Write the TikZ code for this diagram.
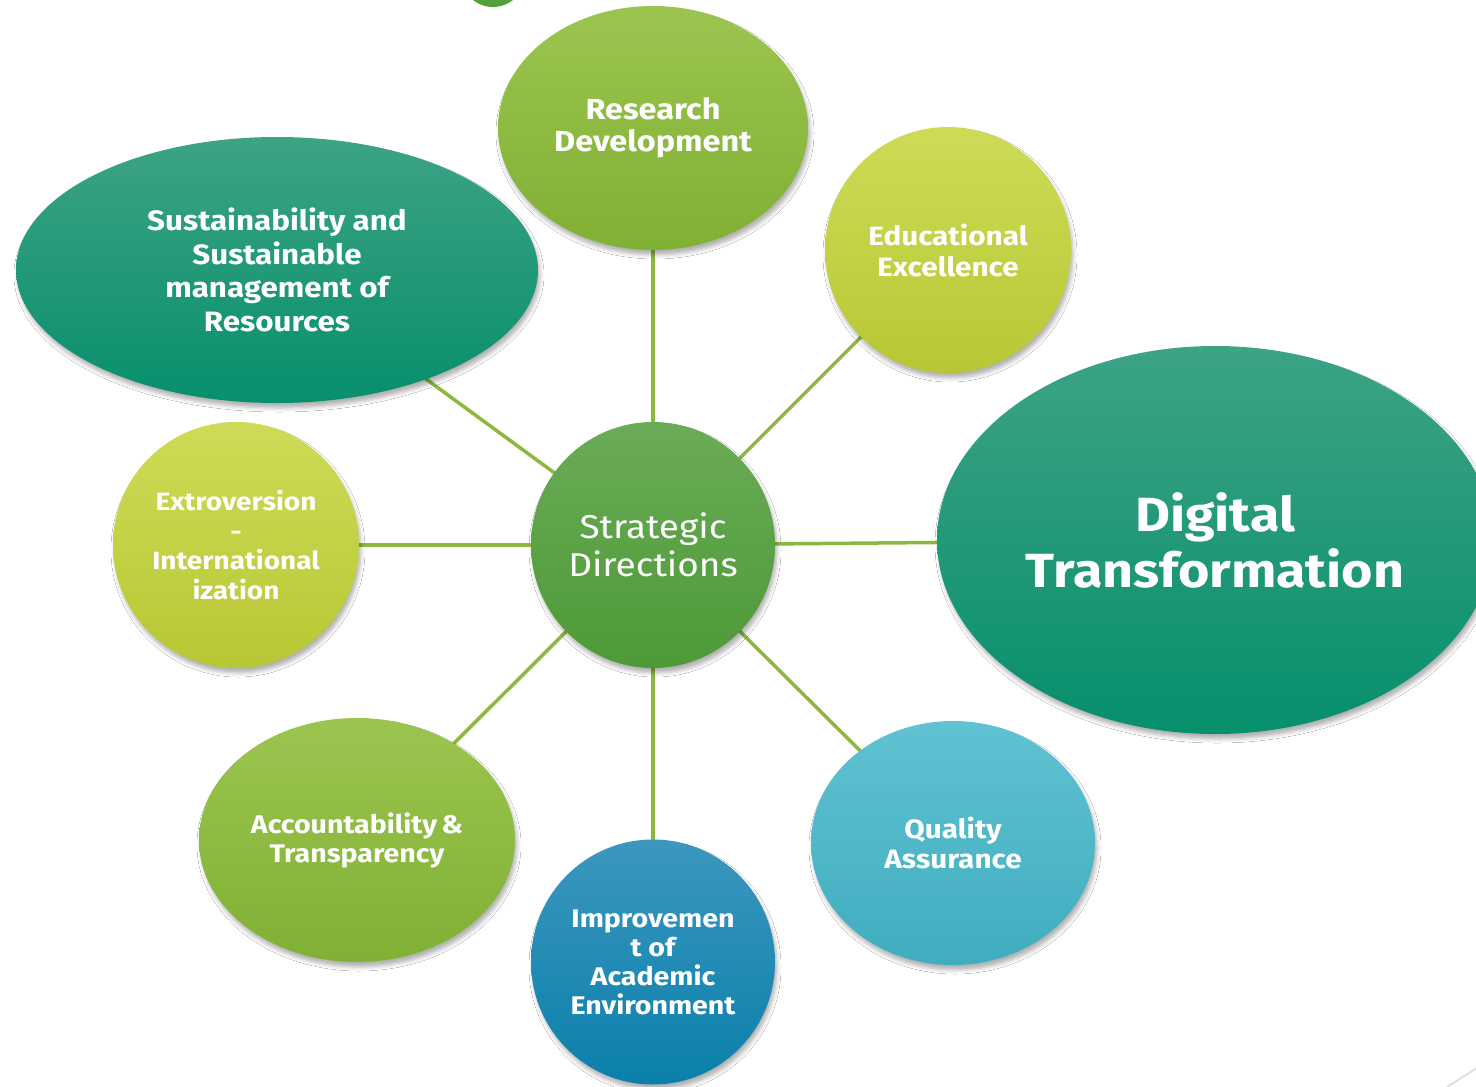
\documentclass[tikz,border=0pt]{standalone}
\usepackage{fontspec}
\setmainfont{Fira Sans}[FakeStretch=1.12]
\usetikzlibrary{shapes.geometric,shadows.blur,backgrounds}
\definecolor{ctrT}{HTML}{6AAB57}\definecolor{ctrB}{HTML}{4E9A37}
\definecolor{grnT}{HTML}{9CC54F}\definecolor{grnB}{HTML}{80B034}
\definecolor{ylwT}{HTML}{CEDB57}\definecolor{ylwB}{HTML}{B8C734}
\definecolor{tealT}{HTML}{3DA385}\definecolor{tealB}{HTML}{078F6D}
\definecolor{bluT}{HTML}{3C97BF}\definecolor{bluB}{HTML}{0A80AB}
\definecolor{lbT}{HTML}{60C2D2}\definecolor{lbB}{HTML}{3FADBF}
\definecolor{linkc}{HTML}{8CB83E}
\definecolor{topdot}{HTML}{56A03A}
\tikzset{
  bubble/.style={ellipse, inner sep=0pt, align=center, text=white,
    blur shadow={shadow xshift=2pt, shadow yshift=-5pt, shadow blur radius=4pt, shadow opacity=30}},
  sz/.style 2 args={minimum width=#1pt, minimum height=#2pt},
  greenb/.style={top color=grnT, bottom color=grnB},
  yellowb/.style={top color=ylwT, bottom color=ylwB},
  tealb/.style={top color=tealT, bottom color=tealB},
  blueb/.style={top color=bluT, bottom color=bluB},
  lblueb/.style={top color=lbT, bottom color=lbB},
  centreb/.style={top color=ctrT, bottom color=ctrB},
  link/.style={draw=linkc, line width=3.5pt},
}
\begin{document}
\begin{tikzpicture}[x=1pt,y=-1pt]
\useasboundingbox (0,0) rectangle (1476,1087);
\clip (0,0) rectangle (1476,1087);
\fill[topdot] (493,-25) circle[radius=32pt];
\draw[black!15, line width=1.5pt] (1447,1087) -- (1480,1066);

\node[bubble, centreb, sz={244}{246}, font=\fontsize{33}{38}\selectfont] (sd) at (653,545) {Strategic\\Directions};
\node[bubble, greenb, sz={310}{244}, font=\fontsize{29}{32}\selectfont\bfseries] (rd) at (653,128) {Research\\Development};
\node[bubble, yellowb, sz={246}{246}, font=\fontsize{26.5}{31}\selectfont\bfseries] (ee) at (948,250) {Educational\\Excellence};
\node[bubble, tealb, sz={522}{266}, font=\fontsize{28}{33.5}\selectfont\bfseries] (su) at (277,270) {Sustainability and\\Sustainable\\management of\\Resources};
\node[bubble, tealb, sz={556}{388}, font=\fontsize{48}{56}\selectfont\bfseries] (dt) at (1215,540) {Digital\\Transformation};
\node[bubble, yellowb, sz={246}{246}, font=\fontsize{25}{29.5}\selectfont\bfseries] (ex) at (236,545) {Extroversion\\-\\International\\ization};
\node[bubble, greenb, sz={316}{244}, font=\fontsize{25.5}{29}\selectfont\bfseries] (ac) at (357,840) {Accountability\,\&\\Transparency};
\node[bubble, blueb, sz={244}{245}, font=\fontsize{25.5}{29}\selectfont\bfseries] (im) at (653,962) {Improvemen\\t of\\Academic\\Environment};
\node[bubble, lblueb, sz={284}{244}, font=\fontsize{26.5}{30}\selectfont\bfseries] (qa) at (953,843) {Quality\\Assurance};

\begin{scope}[on background layer]
\fill[white] (0,0) rectangle (1476,1087);
\foreach \n in {rd,ee,su,dt,ex,ac,im,qa}
  \draw[link] (sd.center) -- (\n.center);
\end{scope}
\end{tikzpicture}
\end{document}
